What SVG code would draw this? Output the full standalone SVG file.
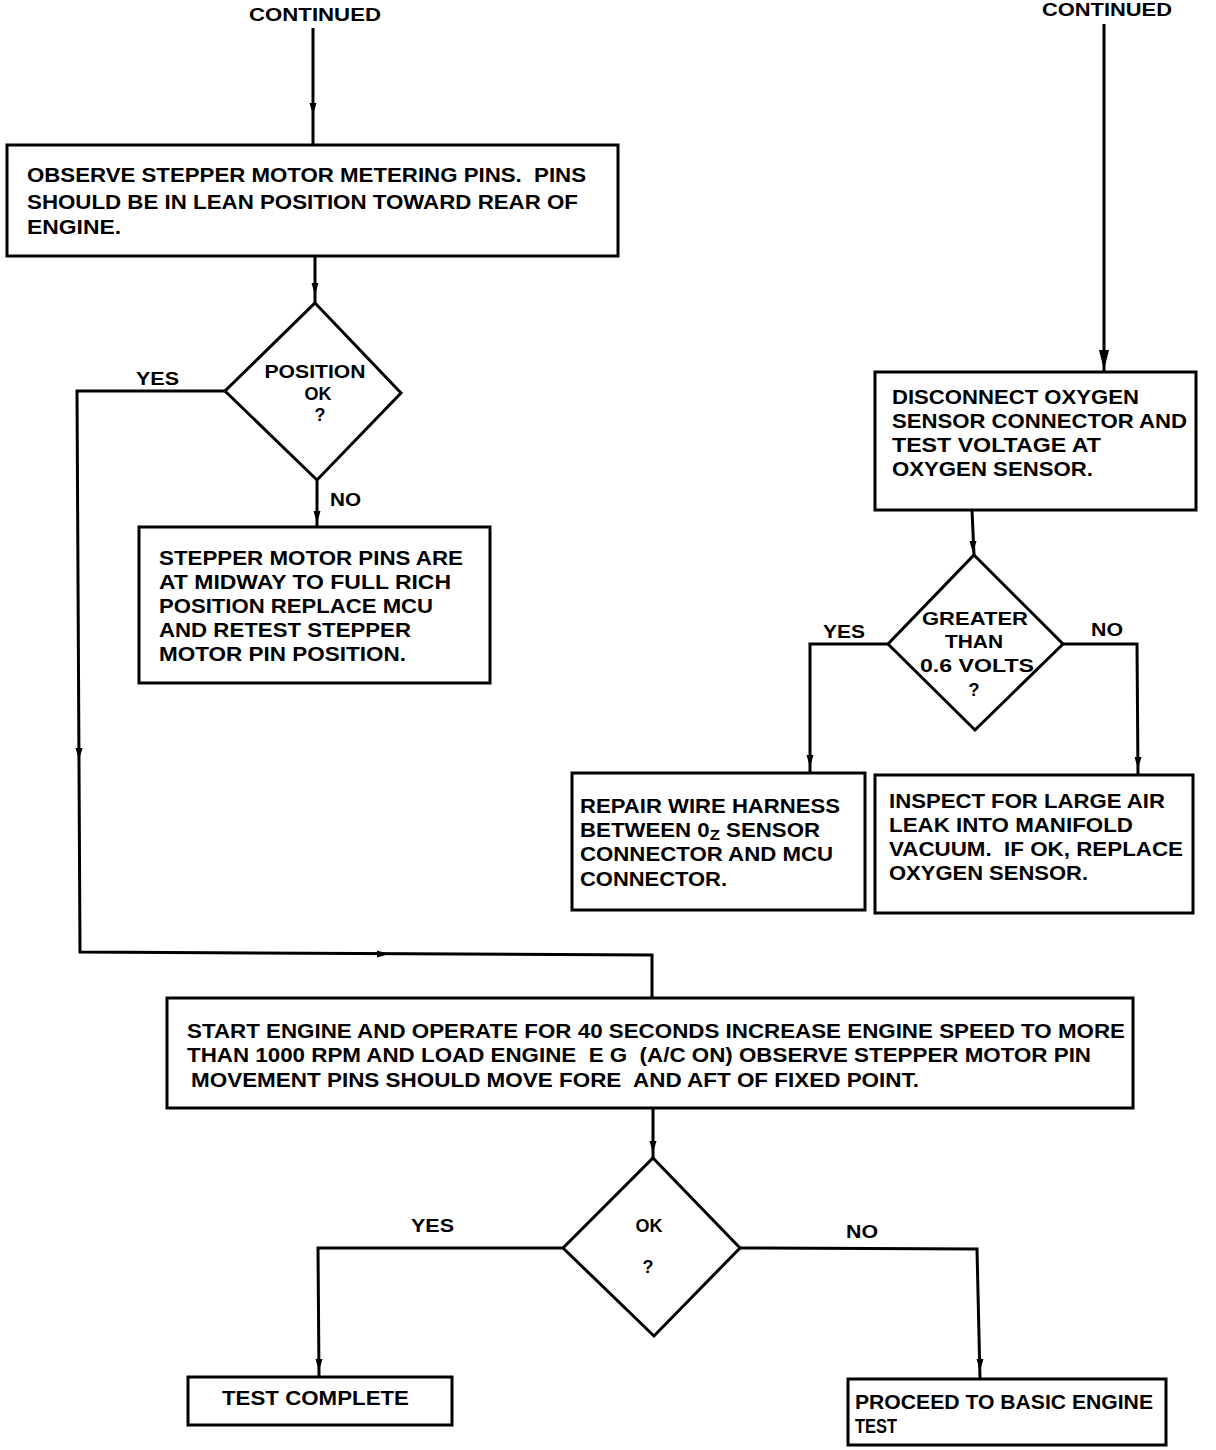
<svg xmlns="http://www.w3.org/2000/svg" width="1216" height="1450" viewBox="0 0 1216 1450">
<style>
text{font-family:"Liberation Sans",Arial,sans-serif;font-weight:bold;fill:#000;font-size:20px;white-space:pre}
.box{fill:#fff;stroke:#000;stroke-width:3}
.con{fill:none;stroke:#000;stroke-width:3}
.lbl{font-size:18px}
.mid{text-anchor:middle}
.cond{font-size:21px}
</style>
<defs>
<path id="ad" d="M-3.5,-9 L3.5,-9 L0,3 Z" fill="#000"/>
<path id="adb" d="M-5,-16 L5,-16 L0,4 Z" fill="#000"/>
<path id="ar" d="M-9,-3.5 L-9,3.5 L3,0 Z" fill="#000"/>
</defs>
<rect width="1216" height="1450" fill="#fff"/>

<g id="connectors">
<line class="con" x1="313" y1="28" x2="313" y2="145"/>
<use href="#ad" x="313" y="112"/>
<line class="con" x1="315" y1="256" x2="315" y2="303"/>
<use href="#ad" x="315" y="292"/>
<polyline class="con" points="225,391 77,391 80,952 652,955 652,998"/>
<use href="#ad" x="79" y="757"/>
<use href="#ar" x="386" y="954"/>
<line class="con" x1="317" y1="480" x2="317" y2="527"/>
<use href="#ad" x="317" y="520"/>
<line class="con" x1="1104" y1="24" x2="1104" y2="372"/>
<use href="#adb" x="1104" y="366"/>
<line class="con" x1="972" y1="510" x2="974" y2="555"/>
<use href="#ad" x="973" y="550"/>
<polyline class="con" points="888,644 810,644 810,773"/>
<use href="#ad" x="810" y="764"/>
<polyline class="con" points="1063,644 1137,644 1138,775"/>
<use href="#ad" x="1138" y="766"/>
<line class="con" x1="653" y1="1108" x2="653" y2="1158"/>
<use href="#ad" x="653" y="1150"/>
<polyline class="con" points="563,1248 318,1248 319,1377"/>
<use href="#ad" x="319" y="1368"/>
<polyline class="con" points="740,1248 977,1249 980,1379"/>
<use href="#ad" x="980" y="1368"/>
</g>

<g id="labels">
<text class="lbl mid" x="315" y="21" textLength="132" lengthAdjust="spacingAndGlyphs">CONTINUED</text>
<text class="lbl mid" x="1107" y="16" textLength="130" lengthAdjust="spacingAndGlyphs">CONTINUED</text>
<text class="lbl" x="136" y="385" textLength="43" lengthAdjust="spacingAndGlyphs">YES</text>
<text class="lbl" x="330" y="506" textLength="31" lengthAdjust="spacingAndGlyphs">NO</text>
<text class="lbl" x="823" y="638" textLength="42" lengthAdjust="spacingAndGlyphs">YES</text>
<text class="lbl" x="1091" y="636" textLength="32" lengthAdjust="spacingAndGlyphs">NO</text>
<text class="lbl" x="411" y="1232" textLength="43" lengthAdjust="spacingAndGlyphs">YES</text>
<text class="lbl" x="846" y="1238" textLength="32" lengthAdjust="spacingAndGlyphs">NO</text>
</g>

<g id="n1">
<rect class="box" x="7" y="145" width="611" height="111"/>
<text x="27" y="182" textLength="559" lengthAdjust="spacingAndGlyphs">OBSERVE STEPPER MOTOR METERING PINS.  PINS</text>
<text x="27" y="209" textLength="551" lengthAdjust="spacingAndGlyphs">SHOULD BE IN LEAN POSITION TOWARD REAR OF</text>
<text x="27" y="234" textLength="94" lengthAdjust="spacingAndGlyphs">ENGINE.</text>
</g>

<g id="d1">
<polygon class="box" points="315,303 401,393 317,480 225,391"/>
<text class="lbl mid" x="315" y="378" textLength="101" lengthAdjust="spacingAndGlyphs">POSITION</text>
<text class="lbl mid" x="318" y="400">OK</text>
<text class="lbl mid" x="320" y="421">?</text>
</g>

<g id="n2">
<rect class="box" x="139" y="527" width="351" height="156"/>
<text x="159" y="565" textLength="304" lengthAdjust="spacingAndGlyphs">STEPPER MOTOR PINS ARE</text>
<text x="159" y="589" textLength="292" lengthAdjust="spacingAndGlyphs">AT MIDWAY TO FULL RICH</text>
<text x="159" y="613" textLength="274" lengthAdjust="spacingAndGlyphs">POSITION REPLACE MCU</text>
<text x="159" y="637" textLength="252" lengthAdjust="spacingAndGlyphs">AND RETEST STEPPER</text>
<text x="159" y="661" textLength="247" lengthAdjust="spacingAndGlyphs">MOTOR PIN POSITION.</text>
</g>

<g id="n3">
<rect class="box" x="875" y="372" width="321" height="138"/>
<text x="892" y="404" textLength="247" lengthAdjust="spacingAndGlyphs">DISCONNECT OXYGEN</text>
<text x="892" y="428" textLength="295" lengthAdjust="spacingAndGlyphs">SENSOR CONNECTOR AND</text>
<text x="892" y="452" textLength="209" lengthAdjust="spacingAndGlyphs">TEST VOLTAGE AT</text>
<text x="892" y="476" textLength="201" lengthAdjust="spacingAndGlyphs">OXYGEN SENSOR.</text>
</g>

<g id="d2">
<polygon class="box" points="974,555 1063,644 975,730 888,644"/>
<text class="lbl mid" x="975" y="625" textLength="106" lengthAdjust="spacingAndGlyphs">GREATER</text>
<text class="lbl mid" x="974" y="648" textLength="58" lengthAdjust="spacingAndGlyphs">THAN</text>
<text class="lbl mid" x="977" y="672" textLength="114" lengthAdjust="spacingAndGlyphs">0.6 VOLTS</text>
<text class="lbl mid" x="974" y="696">?</text>
</g>

<g id="n4">
<rect class="box" x="572" y="773" width="293" height="137"/>
<text x="580" y="813" textLength="260" lengthAdjust="spacingAndGlyphs">REPAIR WIRE HARNESS</text>
<text x="580" y="837" textLength="240" lengthAdjust="spacingAndGlyphs">BETWEEN 0<tspan font-size="15" dy="3">Z</tspan><tspan dy="-3"> SENSOR</tspan></text>
<text x="580" y="861" textLength="253" lengthAdjust="spacingAndGlyphs">CONNECTOR AND MCU</text>
<text x="580" y="886" textLength="147" lengthAdjust="spacingAndGlyphs">CONNECTOR.</text>
</g>

<g id="n5">
<rect class="box" x="875" y="775" width="318" height="138"/>
<text x="889" y="808" textLength="276" lengthAdjust="spacingAndGlyphs">INSPECT FOR LARGE AIR</text>
<text x="889" y="832" textLength="244" lengthAdjust="spacingAndGlyphs">LEAK INTO MANIFOLD</text>
<text x="889" y="856" textLength="294" lengthAdjust="spacingAndGlyphs">VACUUM.  IF OK, REPLACE</text>
<text x="889" y="880" textLength="199" lengthAdjust="spacingAndGlyphs">OXYGEN SENSOR.</text>
</g>

<g id="n6">
<rect class="box" x="167" y="998" width="966" height="110"/>
<text class="cond" x="187" y="1038" textLength="938" lengthAdjust="spacingAndGlyphs">START ENGINE AND OPERATE FOR 40 SECONDS INCREASE ENGINE SPEED TO MORE</text>
<text class="cond" x="187" y="1062" textLength="904" lengthAdjust="spacingAndGlyphs">THAN 1000 RPM AND LOAD ENGINE  E G  (A/C ON) OBSERVE STEPPER MOTOR PIN</text>
<text class="cond" x="191" y="1087" textLength="728" lengthAdjust="spacingAndGlyphs">MOVEMENT PINS SHOULD MOVE FORE  AND AFT OF FIXED POINT.</text>
</g>

<g id="d3">
<polygon class="box" points="653,1158 740,1248 654,1336 563,1248"/>
<text class="lbl mid" x="649" y="1232">OK</text>
<text class="lbl mid" x="648" y="1273">?</text>
</g>

<g id="n7">
<rect class="box" x="188" y="1377" width="264" height="48"/>
<text class="cond" x="222" y="1405" textLength="187" lengthAdjust="spacingAndGlyphs">TEST COMPLETE</text>
</g>

<g id="n8">
<rect class="box" x="848" y="1379" width="318" height="66"/>
<text class="cond" x="855" y="1409" textLength="298" lengthAdjust="spacingAndGlyphs">PROCEED TO BASIC ENGINE</text>
<text class="cond" x="855" y="1433" textLength="42" lengthAdjust="spacingAndGlyphs">TEST</text>
</g>
</svg>
